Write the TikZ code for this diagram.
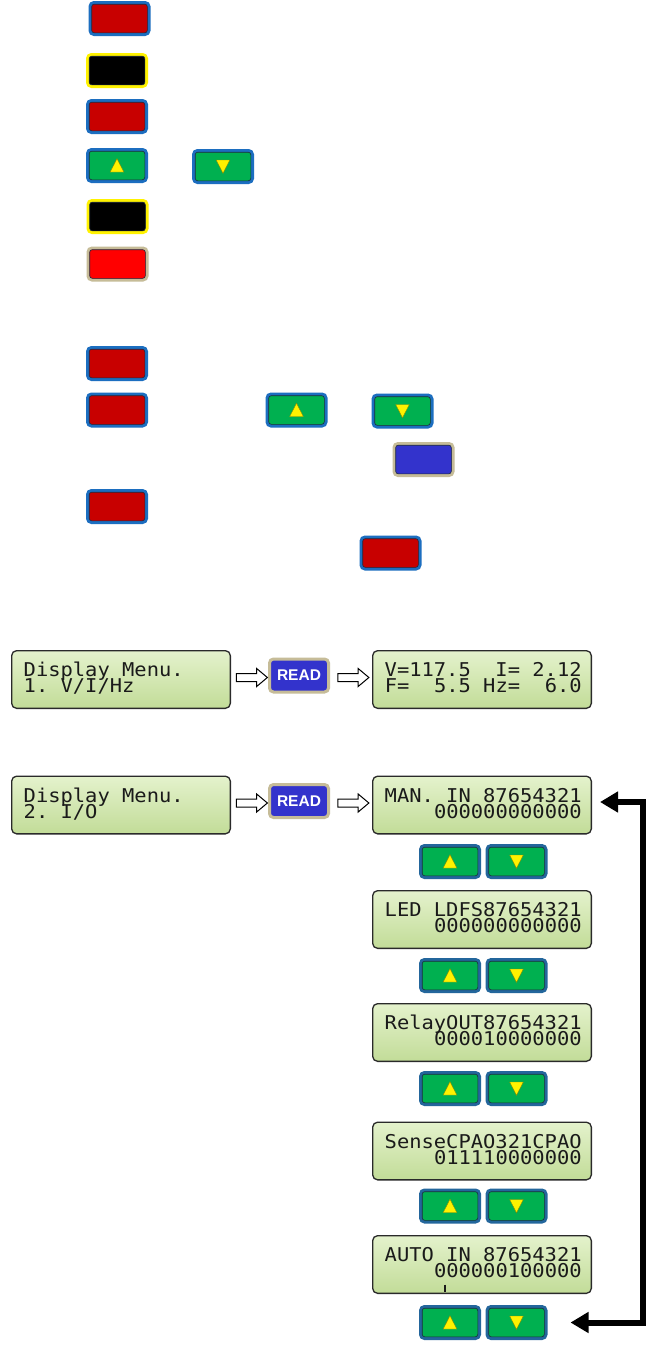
\documentclass[tikz,border=0pt]{standalone}
\usepackage{fontspec}
\newfontfamily\lcdfont[FakeStretch=1.076]{DejaVu Sans Mono}
\newfontfamily\btnfont{Liberation Sans}
\usetikzlibrary{shapes.arrows,arrows.meta,calc}
\definecolor{btnred}{HTML}{C80000}
\definecolor{btngreen}{HTML}{00B050}
\definecolor{topblue}{HTML}{1C6EC0}
\definecolor{lowblue}{HTML}{23669C}
\definecolor{beige}{HTML}{C6BC98}
\definecolor{readblue}{HTML}{3333CC}
\definecolor{rimdark}{HTML}{1E2A40}
\definecolor{tridark}{HTML}{8A8A00}
\definecolor{lcdtop}{HTML}{E4F2CC}
\definecolor{lcdbot}{HTML}{C2DC98}
\definecolor{lcdline}{HTML}{2A2A2A}
\definecolor{lcdink}{HTML}{1A1A1A}
\tikzset{
 btnbase/.style={rounded corners=4pt, minimum width=59pt, minimum height=32pt, line width=3pt, inner sep=0pt},
 redbtn/.style={btnbase, fill=btnred, draw=topblue},
 blkbtn/.style={btnbase, fill=black, draw=yellow},
 grnbtn/.style={btnbase, fill=btngreen, draw=topblue},
 lgrnbtn/.style={btnbase, fill=btngreen, draw=lowblue},
 brbtn/.style={btnbase, fill=red, draw=beige},
 bluebtn/.style={btnbase, fill=readblue, draw=beige},
 readbtn/.style={btnbase, fill=readblue, draw=beige, minimum height=33pt, text=white, font=\btnfont\bfseries\fontsize{15.5pt}{15.5pt}\selectfont},
 lcd/.style={draw=lcdline, line width=1.3pt, rounded corners=5pt, top color=lcdtop, bottom color=lcdbot, minimum width=218.7pt, minimum height=57.7pt, inner sep=0pt},
 lcdtxt/.style={inner sep=0pt, text=lcdink, font=\lcdfont\fontsize{19pt}{19pt}\selectfont},
 hollow/.style={single arrow, draw=black, fill=white, line width=1pt, minimum height=31pt, single arrow head extend=5pt, single arrow tip angle=80, inner sep=0pt},
 loopline/.style={line width=6pt, {Triangle[length=18pt,width=20pt]}-{Triangle[length=18pt,width=20pt]}},
 inrim/.style={draw=rimdark, line width=0.6pt, rounded corners=2.5pt},
 tri/.style={fill=yellow, draw=tridark, line width=0.4pt},
}
\newcommand\mkbtn[4]{%
 \node[#2] (#1) at (#3,#4) {};
 \draw[inrim] ([shift={(3.2pt,3.2pt)}]#1.south west) rectangle ([shift={(-3.2pt,-3.2pt)}]#1.north east);}
\newcommand\upt[1]{\draw[tri] ([yshift=6.8pt]#1.center) -- ([shift={(-6.8pt,-6.5pt)}]#1.center) -- ([shift={(6.8pt,-6.5pt)}]#1.center) -- cycle;}
\newcommand\dnt[1]{\draw[tri] ([yshift=-6.8pt]#1.center) -- ([shift={(-6.8pt,6.5pt)}]#1.center) -- ([shift={(6.8pt,6.5pt)}]#1.center) -- cycle;}
\newcommand\twolines[2]{\vbox{\baselineskip=16pt\lineskiplimit=-100pt\lineskip=0pt\hbox to 197pt{#1\hfil}\hbox to 197pt{#2}}}
\newcommand\lcdL[5]{%
 \node[lcd] (#1) at (#2,#3) {};
 \node[lcdtxt, anchor=base west] (#1-t) at ([shift={(12.5pt,-42.5pt)}]#1.north west) {\twolines{#4}{#5\hfil}};}
\newcommand\lcdR[5]{%
 \node[lcd] (#1) at (#2,#3) {};
 \node[lcdtxt, anchor=base west] (#1-t) at ([shift={(12.5pt,-42.5pt)}]#1.north west) {\twolines{#4}{\hfil#5}};}
\newcommand\pair[2]{%
 \mkbtn{#1u}{lgrnbtn}{450}{#2}\upt{#1u}
 \mkbtn{#1d}{lgrnbtn}{516.5}{#2}\dnt{#1d}}
\begin{document}
\begin{tikzpicture}[x=1pt,y=-1pt]
\useasboundingbox[fill=white] (0,0) rectangle (658,1349);
% top legend buttons
\mkbtn{b1}{redbtn}{119.5}{18.5}
\mkbtn{b2}{blkbtn}{117}{70.5}
\mkbtn{b3}{redbtn}{117}{116.5}
\mkbtn{b4u}{grnbtn}{117}{165.5}\upt{b4u}
\mkbtn{b4d}{grnbtn}{223}{166.5}\dnt{b4d}
\mkbtn{b5}{blkbtn}{117.5}{216.5}
\mkbtn{b6}{brbtn}{117.5}{264}
\mkbtn{b7}{redbtn}{117}{363.5}
\mkbtn{b8}{redbtn}{117}{410}
\mkbtn{b8u}{grnbtn}{296.5}{410}\upt{b8u}
\mkbtn{b8d}{grnbtn}{402.5}{411}\dnt{b8d}
\mkbtn{b8b}{bluebtn}{423.5}{459.5}
\mkbtn{b9}{redbtn}{117}{506.5}
\mkbtn{b10}{redbtn}{390.5}{553}
% display menu 1
\lcdL{lcd1}{121}{679.5}{Display\ Menu.}{1.\ V/I/Hz}
\node[readbtn] (read1) at (299,675.5) {READ};
\lcdR{lcdr1}{482}{679.5}{V=117.5\ \ I=\ 2.12}{F=\ \ 5.5\ Hz=\ \ 6.0}
\coordinate (m1) at ($(lcd1.east|-read1.west)!0.5!(read1.west)$);
\node[hollow] (ar1) at ([yshift=-2pt]m1) {\rule{0pt}{7pt}};
\coordinate (m2) at ($(read1.east)!0.5!(lcdr1.west|-read1.east)$);
\node[hollow] (ar2) at ([yshift=-2pt]m2) {\rule{0pt}{7pt}};
% display menu 2
\lcdL{lcd2}{121}{805}{Display\ Menu.}{2.\ I/O}
\node[readbtn] (read2) at (299,801) {READ};
\lcdR{man}{482}{805}{MAN.\ IN\ 87654321}{000000000000}
\coordinate (m3) at ($(lcd2.east|-read2.west)!0.5!(read2.west)$);
\node[hollow] (ar3) at ([yshift=-2pt]m3) {\rule{0pt}{7pt}};
\coordinate (m4) at ($(read2.east)!0.5!(man.west|-read2.east)$);
\node[hollow] (ar4) at ([yshift=-2pt]m4) {\rule{0pt}{7pt}};
\pair{p1}{861.5}
\lcdR{led}{482}{919.5}{LED\ LDFS87654321}{000000000000}
\pair{p2}{975.5}
\lcdR{relay}{482}{1032.5}{RelayOUT87654321}{000010000000}
\pair{p3}{1088.5}
\lcdR{sense}{482}{1151}{SenseCPAO321CPAO}{011110000000}
\pair{p4}{1206}
\lcdR{auto}{482}{1264.5}{AUTO\ IN\ 87654321}{000000100000}
\draw[lcdink, line width=1.2pt] ([shift={(73pt,-49.5pt)}]auto.north west) -- ++(0pt,-7.5pt);
\pair{p5}{1322.5}
% loop connector
\coordinate (fa) at ([xshift=8pt,yshift=3pt]man.east);
\coordinate (fb) at ([xshift=23pt]p5d.east);
\coordinate (xc) at (643,0);
\draw[loopline] (fb) -- (fb -| xc) |- (fa);
\end{tikzpicture}
\end{document}
